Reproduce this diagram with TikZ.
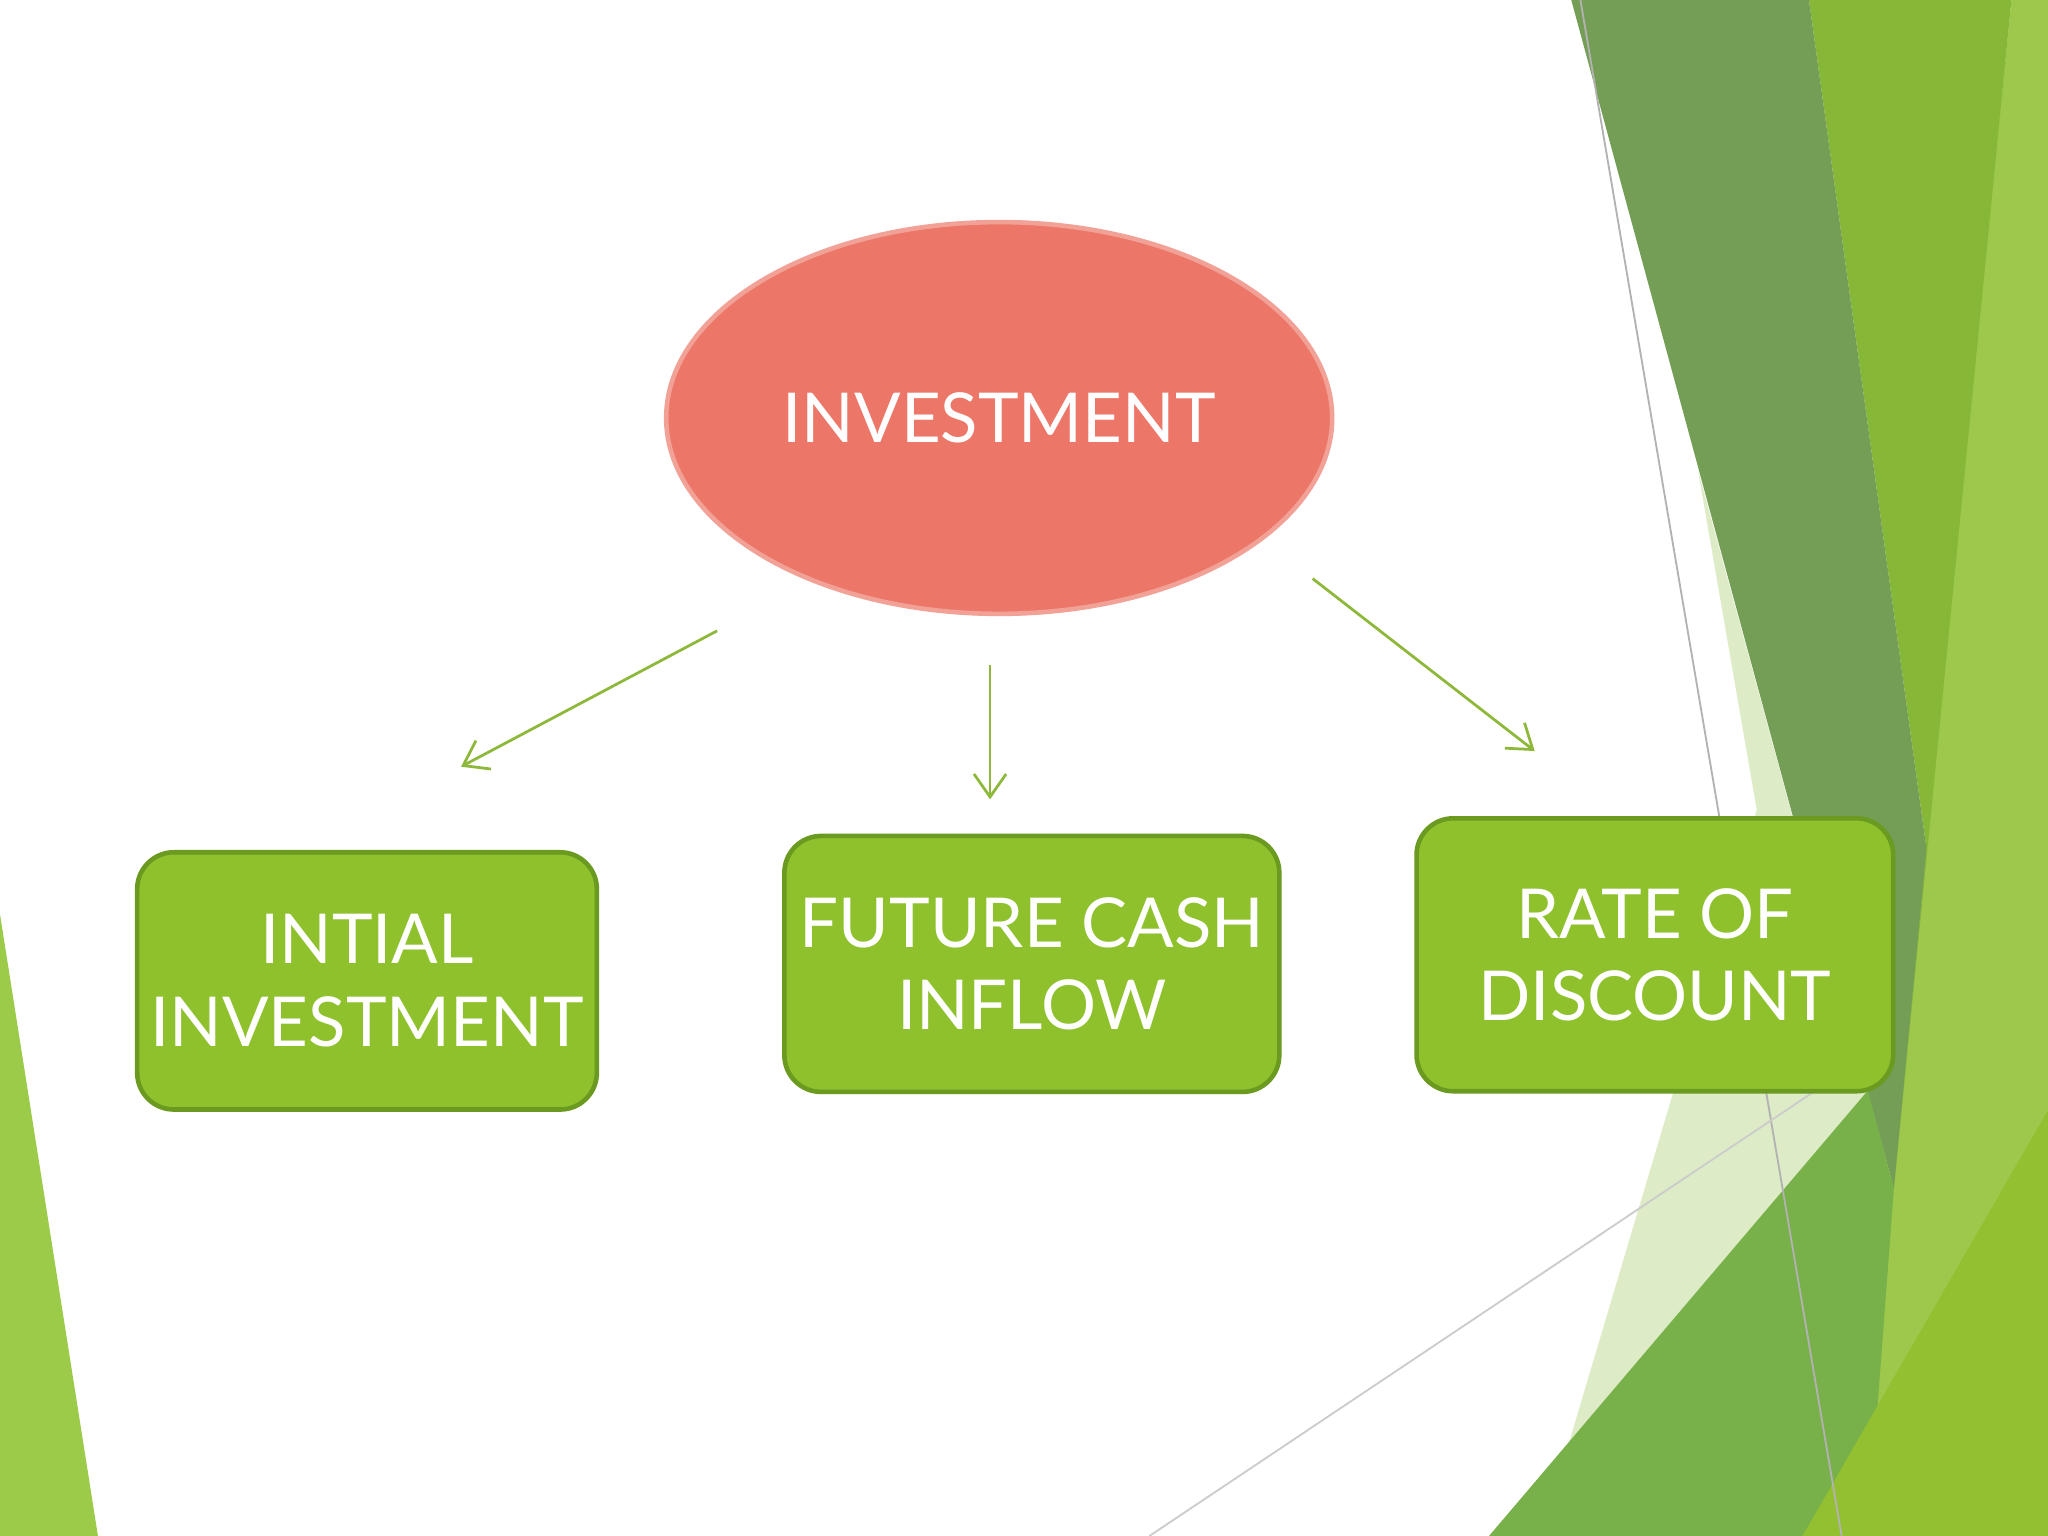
\documentclass[tikz,border=0pt]{standalone}
\usepackage{fontspec}
\setmainfont{Lato}
\usetikzlibrary{shapes.geometric,arrows.meta}
\definecolor{boxg}{HTML}{8FC12D}
\definecolor{boxb}{HTML}{6A9A1F}
\definecolor{ellf}{HTML}{EC7768}
\definecolor{elle}{HTML}{F2A196}
\definecolor{arr}{HTML}{8DB83A}
\definecolor{bgpale}{RGB}{221,235,198}
\definecolor{bglight}{RGB}{157,200,75}
\definecolor{bgmid}{RGB}{134,183,55}
\definecolor{bgdark}{RGB}{116,158,85}
\definecolor{bgtri}{RGB}{120,176,74}
\definecolor{bgbright}{RGB}{147,192,48}
\definecolor{bgleft}{RGB}{156,203,74}
\tikzset{
 gbox/.style={draw=boxb,line width=2pt,fill=boxg,rounded corners=16pt,text=white,font=\fontsize{30}{36}\selectfont,align=center},
 conn/.style={draw=arr,line width=1.2pt,-{Straight Barb[length=10pt,width=14pt]}}
}
\begin{document}
\begin{tikzpicture}[x=0.02cm,y=-0.02cm]
\useasboundingbox (0,0) rectangle (1568,1176);
\fill[white] (0,0) rectangle (1568,1176);
% background decoration
\fill[bgpale] (1300,360)--(1450,910)--(1410,1176)--(1180,1176)--(1280,840)--(1345,620)--cycle;
\fill[bglight] (1540,0)--(1568,0)--(1568,1176)--(1420,1176)--cycle;
\fill[bgmid] (1385,0)--(1540,0)--(1450,910)--(1475,650)--cycle;
\fill[bgdark] (1203,0)--(1385,0)--(1475,650)--(1450,910)--cycle;
\fill[bgtri] (1140,1176)--(1430,835)--(1450,910)--(1430,1176)--cycle;
\fill[bgbright] (1380,1176)--(1568,850)--(1568,1176)--cycle;
\draw[gray!60,line width=0.8pt] (1210,0)--(1410,1176);
\draw[gray!40,line width=0.8pt] (880,1176)--(1390,835);
\fill[bgleft] (0,700)--(75,1176)--(0,1176)--cycle;
% nodes
\node[ellipse,draw=elle,line width=2pt,fill=ellf,inner sep=0pt,
  minimum width=10.2cm,minimum height=6cm,text=white,font=\fontsize{30}{36}\selectfont] (inv) at (765,320) {INVESTMENT};
\node[gbox,minimum width=7.04cm,minimum height=3.94cm] (ii) at (281,751) {INTIAL\\INVESTMENT};
\node[gbox,minimum width=7.58cm,minimum height=3.92cm] (fc) at (790,738) {FUTURE CASH\\INFLOW};
\node[gbox,minimum width=7.3cm,minimum height=4.18cm] (rd) at (1267,731) {RATE OF\\DISCOUNT};
\coordinate (a1) at (549,483); \coordinate (b1) at (353,587);
\coordinate (a2) at (758,509); \coordinate (b2) at (758,612);
\coordinate (a3) at (1005,443); \coordinate (b3) at (1175,575);
\draw[conn] (a1)--(b1);
\draw[conn] (a2)--(b2);
\draw[conn] (a3)--(b3);
\end{tikzpicture}
\end{document}
